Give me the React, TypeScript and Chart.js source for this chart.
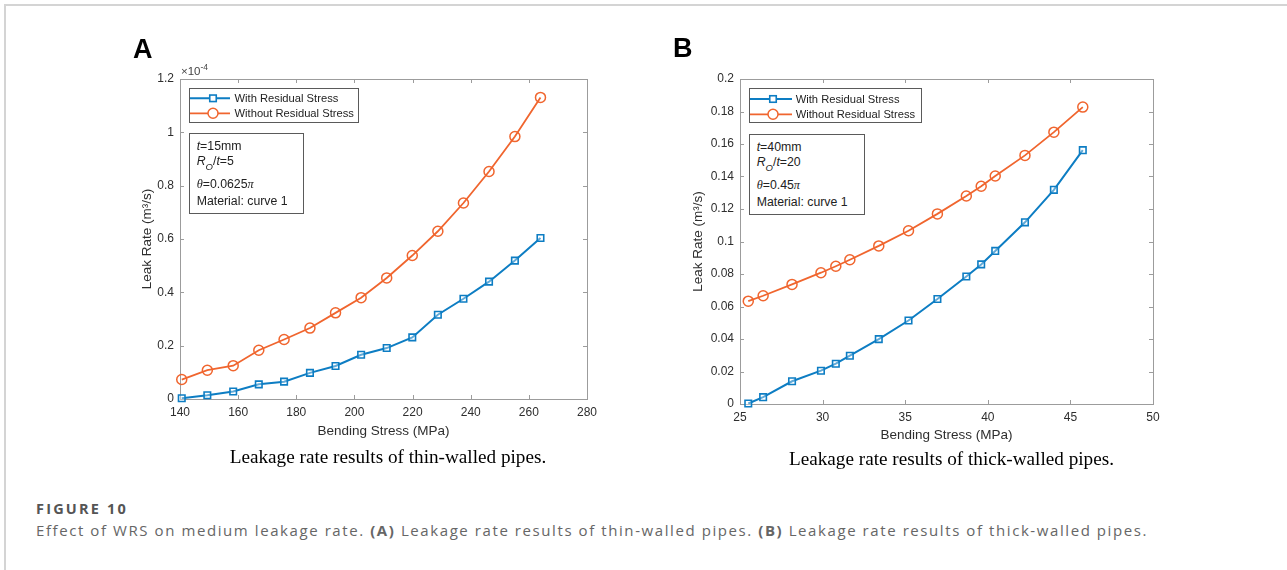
import React, { useEffect, useRef } from 'react';
import { Chart, registerables } from 'chart.js';

Chart.register(...registerables);

// ---------- Panel A data (thin-walled pipes, leak rate in units of 1e-4 m^3/s) ----------
const stressA = [140.6, 149.4, 158.3, 167.1, 175.8, 184.7, 193.5, 202.3, 211.1, 219.9, 228.7, 237.5, 246.3, 255.2, 264.0];
const withResidualA = [0.003, 0.014, 0.028, 0.055, 0.065, 0.098, 0.124, 0.166, 0.191, 0.231, 0.316, 0.376, 0.44, 0.519, 0.604];
const withoutResidualA = [0.073, 0.108, 0.125, 0.183, 0.223, 0.266, 0.323, 0.38, 0.454, 0.538, 0.629, 0.735, 0.853, 0.984, 1.131];
const xTicksA = [140, 160, 180, 200, 220, 240, 260, 280];
const yTicksA = [0, 0.2, 0.4, 0.6, 0.8, 1, 1.2];

// ---------- Panel B data (thick-walled pipes, leak rate in m^3/s) ----------
const stressB = [25.5, 26.4, 28.15, 29.9, 30.8, 31.65, 33.4, 35.2, 36.95, 38.7, 39.6, 40.45, 42.25, 44.0, 45.75];
const withResidualB = [0.0003, 0.0042, 0.014, 0.0205, 0.0248, 0.0297, 0.0399, 0.0514, 0.0646, 0.0785, 0.0859, 0.0942, 0.1118, 0.1318, 0.1562];
const withoutResidualB = [0.0633, 0.0666, 0.0736, 0.0808, 0.0848, 0.0888, 0.0973, 0.1066, 0.117, 0.128, 0.134, 0.1403, 0.153, 0.1673, 0.1827];
const xTicksB = [25, 30, 35, 40, 45, 50];
const yTicksB = [0, 0.02, 0.04, 0.06, 0.08, 0.1, 0.12, 0.14, 0.16, 0.18, 0.2];

const seriesLabels = ['With Residual Stress', 'Without Residual Stress'];

const SANS = '"Liberation Sans", Arial, Helvetica, sans-serif';
const SERIF = '"Liberation Serif", "Times New Roman", serif';
const CAPFONT = '"Open Sans", "Noto Sans", sans-serif';
const BLUE = '#0d7dc3';
const ORANGE = '#f0652e';
const AXIS = '#9c9c9c';
const TXT = '#2e2e2e';

const fmt = (v: number) => String(Number(Number(v).toFixed(3)));

const boxPlugin = {
  id: 'mBox',
  beforeDatasetsDraw(chart: any) {
    const { ctx, chartArea: a, scales } = chart;
    const L = 4;
    ctx.save();
    ctx.strokeStyle = AXIS;
    ctx.lineWidth = 1;
    ctx.beginPath();
    scales.x.ticks.forEach((t: any) => {
      const px = Math.round(scales.x.getPixelForValue(t.value)) + 0.5;
      ctx.moveTo(px, a.bottom);
      ctx.lineTo(px, a.bottom - L);
      ctx.moveTo(px, a.top);
      ctx.lineTo(px, a.top + L);
    });
    scales.y.ticks.forEach((t: any) => {
      const py = Math.round(scales.y.getPixelForValue(t.value)) + 0.5;
      ctx.moveTo(a.left, py);
      ctx.lineTo(a.left + L, py);
      ctx.moveTo(a.right, py);
      ctx.lineTo(a.right - L, py);
    });
    ctx.stroke();
    ctx.strokeRect(Math.round(a.left) + 0.5, Math.round(a.top) + 0.5, Math.round(a.width), Math.round(a.height));
    ctx.restore();
  },
};

const legendPlugin = {
  id: 'mLegend',
  afterDatasetsDraw(chart: any, _args: any, o: any) {
    const { ctx, chartArea: a } = chart;
    const x0 = Math.round(a.left + o.x) + 0.5;
    const y0 = Math.round(a.top + o.y) + 0.5;
    ctx.save();
    ctx.fillStyle = '#ffffff';
    ctx.fillRect(x0, y0, o.w, o.h);
    ctx.strokeStyle = '#5a5a5a';
    ctx.lineWidth = 1;
    ctx.strokeRect(x0, y0, o.w, o.h);
    chart.data.datasets.forEach((ds: any, i: number) => {
      const cy = a.top + o.rows[i];
      ctx.strokeStyle = ds.borderColor;
      ctx.lineWidth = ds.borderWidth;
      ctx.beginPath();
      ctx.moveTo(a.left + o.lx0, cy);
      ctx.lineTo(a.left + o.lx1, cy);
      ctx.stroke();
      ctx.lineWidth = ds.pointBorderWidth;
      const mx = a.left + o.mx;
      ctx.fillStyle = '#ffffff';
      if (ds.pointStyle === 'rect') {
        const s = ds.pointRadius * Math.SQRT1_2;
        ctx.fillRect(mx - s, cy - s, 2 * s, 2 * s);
        ctx.strokeRect(mx - s, cy - s, 2 * s, 2 * s);
      } else {
        ctx.beginPath();
        ctx.arc(mx, cy, ds.pointRadius, 0, Math.PI * 2);
        ctx.fill();
        ctx.stroke();
      }
      ctx.fillStyle = '#222222';
      ctx.font = `11.2px ${SANS}`;
      ctx.textBaseline = 'middle';
      ctx.textAlign = 'left';
      ctx.fillText(ds.label, a.left + o.tx, cy + 0.5);
    });
    ctx.restore();
  },
};

type PanelSpec = {
  left: number; top: number; w: number; h: number;
  pad: { left: number; top: number; right: number; bottom: number };
  yWidth: number; xHeight: number;
  xMin: number; xMax: number; yMin: number; yMax: number;
  xs: number[]; s1: number[]; s2: number[];
  xTicks: number[]; yTicks: number[];
  yTitlePad: number; xTitlePad: number; xTickPad: number;
  legend: any;
};

function buildConfig(p: PanelSpec): any {
  const tickFont = { family: SANS, size: 12 };
  const titleFont = { family: SANS, size: 13.5 };
  return {
    type: 'line',
    data: {
      datasets: [
        {
          label: seriesLabels[0],
          data: p.xs.map((x, i) => ({ x, y: p.s1[i] })),
          borderColor: BLUE,
          backgroundColor: 'rgba(0,0,0,0)',
          borderWidth: 2,
          pointStyle: 'rect',
          pointRadius: 4.6,
          pointBorderWidth: 1.6,
          pointBorderColor: BLUE,
          pointBackgroundColor: 'rgba(255,255,255,0.35)',
          tension: 0,
          clip: false,
        },
        {
          label: seriesLabels[1],
          data: p.xs.map((x, i) => ({ x, y: p.s2[i] })),
          borderColor: ORANGE,
          backgroundColor: 'rgba(0,0,0,0)',
          borderWidth: 1.8,
          pointStyle: 'circle',
          pointRadius: 5,
          pointBorderWidth: 1.5,
          pointBorderColor: ORANGE,
          pointBackgroundColor: 'rgba(0,0,0,0)',
          tension: 0,
          clip: false,
        },
      ],
    },
    options: {
      responsive: false,
      animation: false,
      devicePixelRatio: 1,
      events: [],
      layout: { padding: p.pad },
      plugins: {
        legend: { display: false },
        tooltip: { enabled: false },
        mLegend: p.legend,
      },
      scales: {
        x: {
          type: 'linear',
          min: p.xMin,
          max: p.xMax,
          afterBuildTicks: (s: any) => { s.ticks = p.xTicks.map((v) => ({ value: v })); },
          afterFit: (s: any) => { s.height = p.xHeight; },
          ticks: { callback: (v: any) => fmt(v), font: tickFont, color: TXT, padding: p.xTickPad, maxRotation: 0, autoSkip: false },
          grid: { display: false, drawTicks: false },
          border: { display: false },
          title: { display: true, text: 'Bending Stress (MPa)', font: titleFont, color: TXT, padding: { top: 0, bottom: p.xTitlePad } },
        },
        y: {
          type: 'linear',
          min: p.yMin,
          max: p.yMax,
          afterBuildTicks: (s: any) => { s.ticks = p.yTicks.map((v) => ({ value: v })); },
          afterFit: (s: any) => { s.width = p.yWidth; },
          ticks: { callback: (v: any) => fmt(v), font: tickFont, color: TXT, padding: 6, autoSkip: false },
          grid: { display: false, drawTicks: false },
          border: { display: false },
          title: { display: true, text: 'Leak Rate (m³/s)', font: titleFont, color: TXT, padding: { top: p.yTitlePad, bottom: 0 } },
        },
      },
    },
    plugins: [boxPlugin, legendPlugin],
  };
}

const panelA: PanelSpec = {
  left: 100, top: 40, w: 510, h: 410,
  pad: { left: 0, top: 39, right: 23, bottom: 0 },
  yWidth: 80, xHeight: 51,
  xMin: 140, xMax: 280, yMin: 0, yMax: 1.2,
  xs: stressA, s1: withResidualA, s2: withoutResidualA,
  xTicks: xTicksA, yTicks: yTicksA,
  yTitlePad: 38.9, xTitlePad: 10.9, xTickPad: 6.8,
  legend: { x: 9, y: 9, w: 169, h: 34, lx0: 10, lx1: 50, mx: 33, tx: 54.5, rows: [19.3, 34.3] },
};

const panelB: PanelSpec = {
  left: 660, top: 40, w: 520, h: 415,
  pad: { left: 0, top: 39, right: 27, bottom: 0 },
  yWidth: 80, xHeight: 51,
  xMin: 25, xMax: 50, yMin: 0, yMax: 0.2,
  xs: stressB, s1: withResidualB, s2: withoutResidualB,
  xTicks: xTicksB, yTicks: yTicksB,
  yTitlePad: 29.9, xTitlePad: 11.2, xTickPad: 6.5,
  legend: { x: 9, y: 9, w: 172, h: 34, lx0: 10, lx1: 52, mx: 33, tx: 55.7, rows: [20, 35.3] },
};

function Panel({ spec }: { spec: PanelSpec }) {
  const ref = useRef<HTMLCanvasElement>(null);
  useEffect(() => {
    const chart = new Chart(ref.current as HTMLCanvasElement, buildConfig(spec));
    return () => chart.destroy();
  }, [spec]);
  return (
    <canvas
      ref={ref}
      width={spec.w}
      height={spec.h}
      style={{ position: 'absolute', left: spec.left, top: spec.top, width: spec.w, height: spec.h }}
    />
  );
}

// baseline helpers (line-height: 1)
const sansTop = (baseline: number, size: number) => baseline - 0.8465 * size;
const serifTop = (baseline: number, size: number) => baseline - 0.8375 * size;
const openTop = (baseline: number, size: number) => baseline - 0.888 * size;

function Line({ x, baseline, size, children, family = SANS, color = '#222' }: any) {
  return (
    <div style={{ position: 'absolute', left: x, top: sansTop(baseline, size), fontFamily: family, fontSize: size, lineHeight: 1, whiteSpace: 'nowrap', color }}>
      {children}
    </div>
  );
}

const it = { fontStyle: 'italic' as const };
const serifIt = { fontStyle: 'italic' as const, fontFamily: SERIF };

function Annotation({ box, x, baselines, tval, rval, theta }: any) {
  const size = 12.3;
  return (
    <>
      <div style={{ position: 'absolute', left: box[0], top: box[1], width: box[2], height: box[3], border: '1px solid #5a5a5a', background: '#fff', boxSizing: 'border-box' }} />
      <Line x={x} baseline={baselines[0]} size={size}><span style={it}>t</span>={tval}</Line>
      <Line x={x} baseline={baselines[1]} size={size}>
        <span style={it}>R</span>
        <span style={{ ...it, fontSize: 9.5, position: 'relative', top: 5 }}>O</span>
        /<span style={it}>t</span>={rval}
      </Line>
      <Line x={x} baseline={baselines[2]} size={size}>
        <span style={serifIt}>θ</span>={theta}<span style={serifIt}>π</span>
      </Line>
      <Line x={x} baseline={baselines[3]} size={size}>Material: curve 1</Line>
    </>
  );
}

export default function App() {
  return (
    <div style={{ position: 'absolute', left: 0, top: 0, width: 1287, height: 570, background: '#fff', overflow: 'hidden' }}>
      <div style={{ position: 'absolute', left: 4, top: 4, width: 1400, height: 700, borderLeft: '2px solid #d4d4d4', borderTop: '2px solid #d4d4d4' }} />

      <Panel spec={panelA} />
      <Panel spec={panelB} />

      {/* panel letters */}
      <div style={{ position: 'absolute', left: 133, top: sansTop(58.8, 27), fontFamily: SANS, fontWeight: 'bold', fontSize: 27, lineHeight: 1, color: '#000' }}>A</div>
      <div style={{ position: 'absolute', left: 673, top: sansTop(58, 27), fontFamily: SANS, fontWeight: 'bold', fontSize: 27, lineHeight: 1, color: '#000' }}>B</div>

      {/* exponent label for panel A */}
      <div style={{ position: 'absolute', left: 181, top: sansTop(76, 11.5), fontFamily: SANS, fontSize: 11.5, lineHeight: 1, color: '#444', whiteSpace: 'nowrap' }}>
        ×10<span style={{ fontSize: 8.5, position: 'relative', top: -5.5 }}>-4</span>
      </div>

      <Annotation box={[189, 133, 115, 81]} x={196.7} baselines={[150, 165, 188.3, 205.7]} tval="15mm" rval="5" theta="0.0625" />
      <Annotation box={[749, 134, 116, 81]} x={756.7} baselines={[151, 166.3, 189, 206.3]} tval="40mm" rval="20" theta="0.45" />

      {/* sub-captions */}
      <div style={{ position: 'absolute', left: 88, width: 600, textAlign: 'center', top: serifTop(463.3, 19.2), fontFamily: SERIF, fontSize: 19.2, lineHeight: 1, color: '#000', whiteSpace: 'nowrap' }}>
        Leakage rate results of thin-walled pipes.
      </div>
      <div style={{ position: 'absolute', left: 651.5, width: 600, textAlign: 'center', top: serifTop(465.3, 19.2), fontFamily: SERIF, fontSize: 19.2, lineHeight: 1, color: '#000', whiteSpace: 'nowrap' }}>
        Leakage rate results of thick-walled pipes.
      </div>

      {/* figure caption */}
      <div style={{ position: 'absolute', left: 36, top: openTop(515, 14.5), fontFamily: CAPFONT, fontWeight: 'bold', fontSize: 14.5, lineHeight: 1, color: '#555', whiteSpace: 'nowrap', letterSpacing: 2.2 }}>
        FIGURE 10
      </div>
      <div style={{ position: 'absolute', left: 36, top: openTop(536, 15), fontFamily: CAPFONT, fontSize: 15, lineHeight: 1, color: '#666', whiteSpace: 'nowrap', letterSpacing: 1.58 }}>
        Effect of WRS on medium leakage rate. <b>(A)</b> Leakage rate results of thin-walled pipes. <b>(B)</b> Leakage rate results of thick-walled pipes.
      </div>
    </div>
  );
}
